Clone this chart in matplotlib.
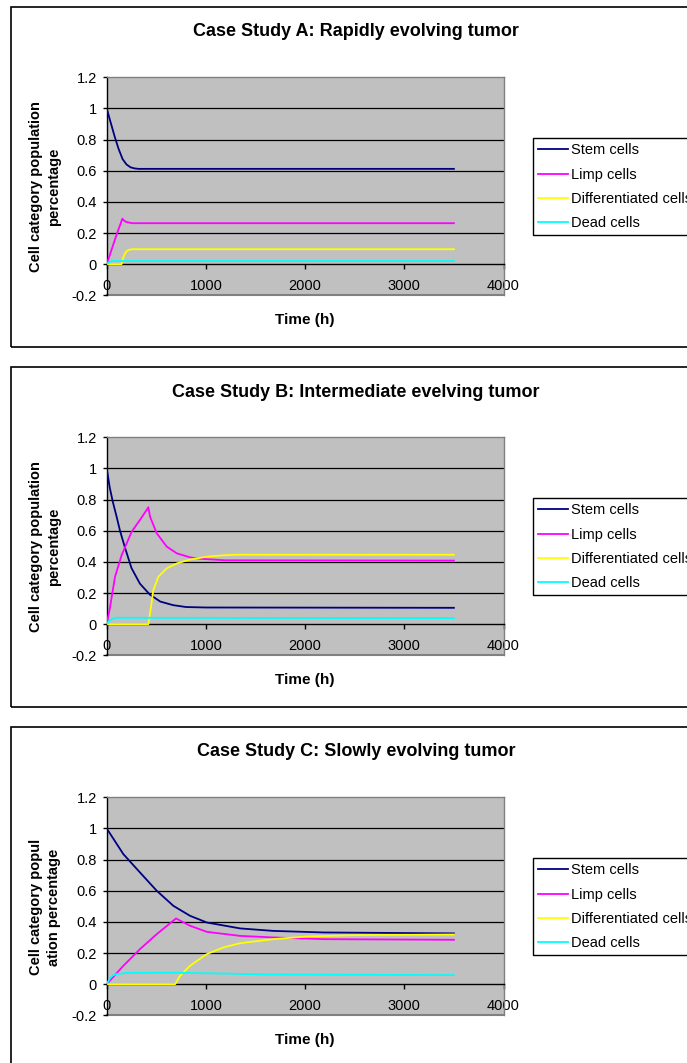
import matplotlib.pyplot as plt
from matplotlib.patches import Rectangle

plt.rcParams['font.family'] = ['Liberation Sans', 'DejaVu Sans']

W, H = 687, 1063

labels = ['Stem cells', 'Limp cells', 'Differentiated cells', 'Dead cells']
colors = ['#000080', '#FF00FF', '#FFFF00', '#00FFFF']

# Case A: rapidly evolving tumor
t_stem_a = [0, 40, 80, 120, 160, 200, 240, 280, 320, 3500]
stem_a = [1.0, 0.91, 0.82, 0.74, 0.675, 0.64, 0.622, 0.615, 0.612, 0.612]
t_limp_a = [0, 50, 100, 158, 175, 200, 260, 3500]
limp_a = [0, 0.095, 0.19, 0.292, 0.28, 0.27, 0.263, 0.263]
t_diff_a = [0, 150, 168, 185, 202, 230, 260, 3500]
diff_a = [0, 0, 0.045, 0.07, 0.084, 0.093, 0.096, 0.096]
t_dead_a = [0, 20, 50, 3500]
dead_a = [0, 0.01, 0.02, 0.02]

# Case B: intermediate evelving tumor
t_stem_b = [0, 30, 60, 100, 134, 185, 250, 335, 435, 540, 670, 800, 1000, 3500]
stem_b = [1.0, 0.88, 0.79, 0.69, 0.60, 0.49, 0.36, 0.26, 0.19, 0.145, 0.122, 0.11, 0.107, 0.105]
t_limp_b = [0, 34, 84, 151, 252, 336, 403, 420, 437, 504, 605, 706, 840, 941, 1200, 3500]
limp_b = [0, 0.11, 0.305, 0.444, 0.594, 0.67, 0.734, 0.751, 0.69, 0.584, 0.498, 0.455, 0.429, 0.42, 0.41, 0.408]
t_diff_b = [0, 420, 437, 470, 521, 605, 706, 840, 1009, 1176, 1300, 3500]
diff_b = [0, 0, 0.069, 0.219, 0.305, 0.358, 0.39, 0.415, 0.433, 0.442, 0.446, 0.446]
t_dead_b = [0, 30, 84, 3500]
dead_b = [0, 0.025, 0.041, 0.039]

# Case C: slowly evolving tumor
t_stem_c = [0, 168, 336, 504, 672, 840, 1009, 1345, 1680, 2185, 3500]
stem_c = [1.0, 0.835, 0.717, 0.60, 0.503, 0.439, 0.396, 0.358, 0.342, 0.332, 0.326]
t_limp_c = [0, 168, 336, 504, 699, 840, 1009, 1345, 1680, 2185, 3500]
limp_c = [0, 0.118, 0.225, 0.321, 0.422, 0.375, 0.336, 0.31, 0.30, 0.289, 0.285]
t_diff_c = [0, 690, 739, 840, 1009, 1176, 1345, 1680, 2017, 2522, 3500]
diff_c = [0, 0, 0.053, 0.118, 0.193, 0.236, 0.263, 0.289, 0.306, 0.315, 0.319]
t_dead_c = [0, 30, 60, 100, 200, 700, 1200, 1600, 3500]
dead_c = [0, 0.035, 0.055, 0.065, 0.072, 0.073, 0.068, 0.062, 0.058]

panels = [
    ('Case Study A: Rapidly evolving tumor', 'Cell category population\npercentage',
     [(t_stem_a, stem_a), (t_limp_a, limp_a), (t_diff_a, diff_a), (t_dead_a, dead_a)]),
    ('Case Study B: Intermediate evelving tumor', 'Cell category population\npercentage',
     [(t_stem_b, stem_b), (t_limp_b, limp_b), (t_diff_b, diff_b), (t_dead_b, dead_b)]),
    ('Case Study C: Slowly evolving tumor', 'Cell category popul\nation percentage',
     [(t_stem_c, stem_c), (t_limp_c, limp_c), (t_diff_c, diff_c), (t_dead_c, dead_c)]),
]

yticks = [-0.2, 0, 0.2, 0.4, 0.6, 0.8, 1, 1.2]
ytick_labels = ['-0.2', '0', '0.2', '0.4', '0.6', '0.8', '1', '1.2']
xticks = [0, 1000, 2000, 3000, 4000]

fig = plt.figure(figsize=(W / 100, H / 100), dpi=100)


def fx(px):
    return px / W


def fy(py):
    return 1 - py / H


for i, (title, ylab, series) in enumerate(panels):
    off = i * 360
    # chart frame
    fig.add_artist(Rectangle((fx(10.7), fy(off + 347)), fx(720), 340 / H,
                             transform=fig.transFigure, fill=False,
                             edgecolor='black', lw=1.2))
    ax = fig.add_axes([fx(106.7), fy(off + 295.3), fx(396.8), 218 / H])
    ax.set_facecolor('#C0C0C0')
    for g in [0.2, 0.4, 0.6, 0.8, 1.0]:
        ax.axhline(g, color='black', lw=0.9, zorder=1)
    ax.axhline(-0.2, color='#808080', lw=1.5, zorder=1, clip_on=False)
    for (t, v), c, lab in zip(series, colors, labels):
        ax.plot(t, v, color=c, lw=1.3, label=lab, zorder=3)
    ax.set_xlim(0, 4000)
    ax.set_ylim(-0.2, 1.2)
    ax.spines['bottom'].set_position(('data', 0))
    ax.spines['bottom'].set_color('black')
    ax.spines['left'].set_color('black')
    ax.spines['top'].set_color('#808080')
    ax.spines['right'].set_color('#808080')
    for s in ax.spines.values():
        s.set_linewidth(1.0)
    ax.set_xticks(xticks)
    ax.set_xticklabels([str(x) for x in xticks])
    ax.set_yticks(yticks)
    ax.set_yticklabels(ytick_labels)
    ax.tick_params(axis='x', direction='out', length=3.5, pad=7.5, labelsize=10.5, width=1)
    ax.tick_params(axis='y', direction='out', length=3, pad=4, labelsize=10.5, width=1)

    fig.text(fx(356), fy(off + 32), title, ha='center', va='center',
             fontsize=13, fontweight='bold')
    fig.text(fx(305), fy(off + 320), 'Time (h)', ha='center', va='center',
             fontsize=11, fontweight='bold')
    fig.text(fx(45), fy(off + 187), ylab, ha='center', va='center', rotation=90,
             fontsize=10.5, fontweight='bold', linespacing=1.3, multialignment='center')

    leg = ax.legend(loc='upper left', bbox_to_anchor=(fx(533.3), fy(off + 138.3)),
                    bbox_transform=fig.transFigure, fontsize=10.5, fancybox=False,
                    edgecolor='black', framealpha=1, borderpad=0.35,
                    handlelength=2.0, handletextpad=0.25, labelspacing=0.7,
                    borderaxespad=0)
    leg.get_frame().set_linewidth(1.0)

fig.savefig('out.png', dpi=100)
